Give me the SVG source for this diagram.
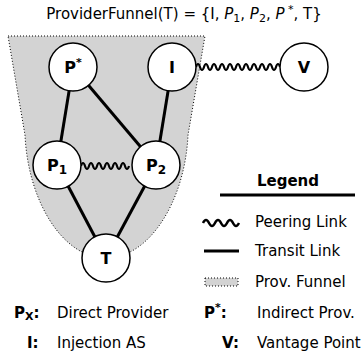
<svg xmlns="http://www.w3.org/2000/svg" width="363" height="358" viewBox="0 0 363 358">
<style>
text{font-family:"DejaVu Sans","Liberation Sans",sans-serif;fill:#000}
.node circle{fill:#fff;stroke:#000;stroke-width:1.5}
.node text{font-size:16px;font-weight:bold;text-anchor:middle}
.transit{stroke:#000;stroke-width:3;fill:none}
.peer{stroke:#000;stroke-width:2.2;fill:none}
.funnel{fill:#d3d3d3;stroke:#000;stroke-width:1;stroke-dasharray:1 2}
.lbl{font-size:15px}
.b{font-weight:bold}
</style>
<text x="184" y="19" font-size="15" text-anchor="middle">ProviderFunnel(T) = {I, <tspan font-style="italic">P</tspan><tspan font-size="11" dy="3">1</tspan><tspan dy="-3">, </tspan><tspan font-style="italic">P</tspan><tspan font-size="11" dy="3">2</tspan><tspan dy="-3">, </tspan><tspan font-style="italic">P</tspan><tspan font-size="11" dy="-6"> *</tspan><tspan dy="6">, T}</tspan></text>
<path class="funnel" d="M8,36 H205 L188,135 C185,200 150,258 106,258 C62,258 28,200 25,135 Z"/>
<g id="connectors">
<line class="transit" x1="73" y1="67" x2="57" y2="165"/>
<line class="transit" x1="73" y1="67" x2="156" y2="165"/>
<line class="transit" x1="172" y1="67" x2="156" y2="165"/>
<line class="transit" x1="57" y1="165" x2="106" y2="258"/>
<line class="transit" x1="156" y1="165" x2="106" y2="258"/>
<path class="peer" d="M81,166 q2,-6 4,0 t4,0 t4,0 t4,0 t4,0 t4,0 t4,0 t4,0 t4,0 t4,0 t4,0 t4,0"/>
<path class="peer" d="M196,67 q2,-6 4,0 t4,0 t4,0 t4,0 t4,0 t4,0 t4,0 t4,0 t4,0 t4,0 t4,0 t4,0 t4,0 t4,0 t4,0 t4,0 t4,0 t4,0 t4,0 t4,0 t4,0"/>
</g>
<g id="node-pstar" class="node"><circle cx="73" cy="67" r="24"/><text x="73" y="73">P<tspan font-size="11" dy="-7">*</tspan></text></g>
<g id="node-i" class="node"><circle cx="172" cy="67" r="24"/><text x="172" y="73">I</text></g>
<g id="node-v" class="node"><circle cx="304" cy="67" r="24"/><text x="304" y="73">V</text></g>
<g id="node-p1" class="node"><circle cx="57" cy="165" r="24"/><text x="57" y="171">P<tspan font-size="12" dy="3">1</tspan></text></g>
<g id="node-p2" class="node"><circle cx="156" cy="165" r="24"/><text x="156" y="171">P<tspan font-size="12" dy="3">2</tspan></text></g>
<g id="node-t" class="node"><circle cx="106" cy="258" r="24"/><text x="106" y="264">T</text></g>
<g id="legend">
<text x="288" y="186" class="lbl b" text-anchor="middle">Legend</text>
<line x1="220" y1="195" x2="355" y2="195" stroke="#000" stroke-width="3"/>
<path d="M203,223 q3,-6 6,0 t6,0 t6,0 t6,0 t6,0 t6,0" stroke="#000" stroke-width="2.5" fill="none"/>
<text x="255" y="227" class="lbl">Peering Link</text>
<line x1="204" y1="251" x2="239" y2="251" stroke="#000" stroke-width="3"/>
<text x="255" y="256" class="lbl">Transit Link</text>
<rect class="funnel" x="205" y="278" width="33" height="8"/>
<text x="255" y="287" class="lbl">Prov. Funnel</text>
</g>
<g id="key">
<text x="14" y="318" class="lbl b">P<tspan font-size="11" dy="2">X</tspan><tspan dy="-2">:</tspan></text>
<text x="57" y="318" class="lbl">Direct Provider</text>
<text x="204" y="318" class="lbl b">P<tspan font-size="11" dy="-7">*</tspan><tspan dy="7">:</tspan></text>
<text x="257" y="318" class="lbl">Indirect Prov.</text>
<text x="27" y="348" class="lbl b">I:</text>
<text x="57" y="348" class="lbl">Injection AS</text>
<text x="222" y="348" class="lbl b">V:</text>
<text x="257" y="348" class="lbl">Vantage Point</text>
</g>
</svg>
